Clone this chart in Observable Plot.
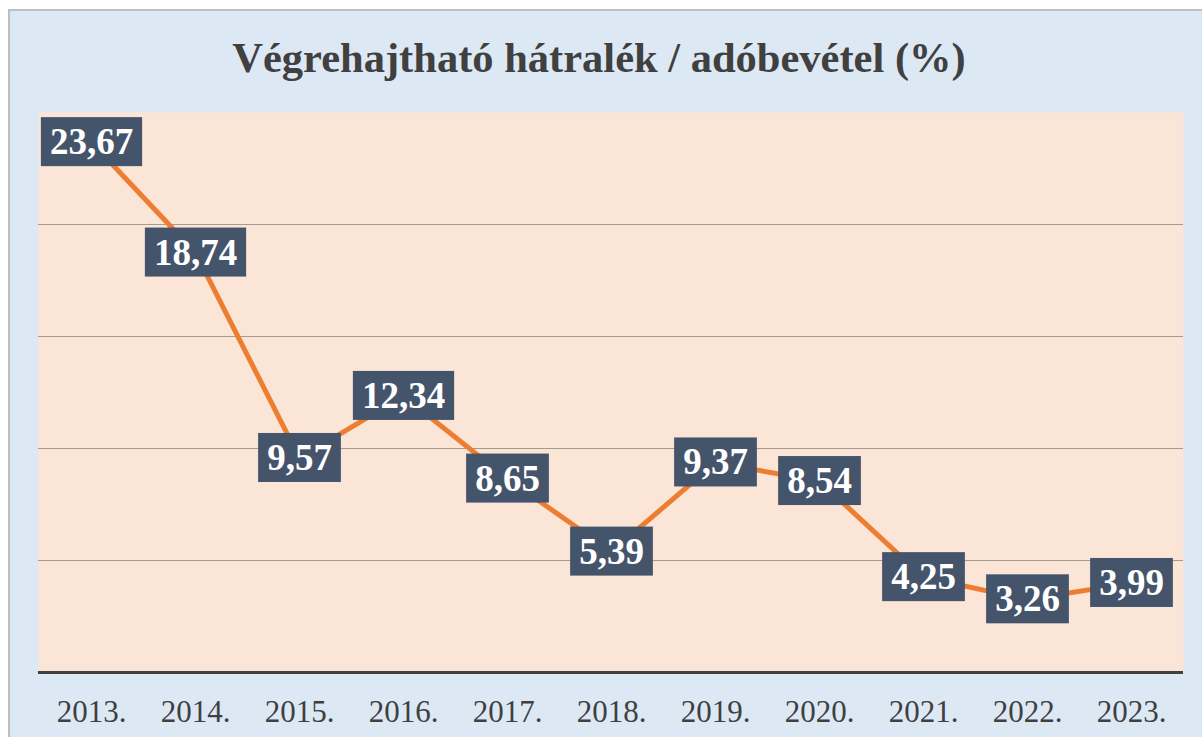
<!DOCTYPE html>
<html>
<head>
<meta charset="utf-8">
<script src="https://cdn.jsdelivr.net/npm/d3@7"></script>
<script src="https://cdn.jsdelivr.net/npm/@observablehq/plot@0.6"></script>
<style>
  html, body { margin: 0; padding: 0; background: #ffffff; width: 1202px; height: 737px; overflow: hidden; }
  #frame { position: absolute; left: 8px; top: 9px; width: 1202px; height: 740px; background: #dde8f5; border: 2px solid #bfbfbf; box-sizing: border-box; }
  #title { position: absolute; left: 0; top: 37px; width: 1198px; text-align: center; font-family: "Liberation Serif", "Times New Roman", serif; font-weight: bold; font-size: 42.5px; color: #404040; line-height: 1; }
  #chart { position: absolute; left: 10px; top: 100px; }
</style>
</head>
<body>
<div id="frame"></div>
<div id="title">Végrehajtható hátralék / adóbevétel (%)</div>
<div id="chart"></div>
<script>
const years = ["2013.", "2014.", "2015.", "2016.", "2017.", "2018.", "2019.", "2020.", "2021.", "2022.", "2023."];
const values = [23.67, 18.74, 9.57, 12.34, 8.65, 5.39, 9.37, 8.54, 4.25, 3.26, 3.99];
const gridTicks = [5, 10, 15, 20];

const data = years.map((y, i) => ({year: y, value: values[i], label: values[i].toFixed(2).replace(".", ",")}));

const plot = Plot.plot({
  width: 1192,
  height: 637,
  marginLeft: 28,
  marginRight: 19,
  marginTop: 12,
  marginBottom: 65,
  style: {background: "transparent", fontFamily: "'Liberation Serif', 'Times New Roman', serif", overflow: "visible"},
  x: {type: "point", domain: years, padding: 0.5, label: null, axis: null},
  y: {domain: [0, 25], label: null, axis: null},
  marks: [
    Plot.frame({fill: "#fbe5d6", stroke: null}),
    Plot.ruleY(gridTicks, {stroke: "#a39a92", strokeWidth: 1}),
    Plot.ruleY([0], {stroke: "#404040", strokeWidth: 3}),
    Plot.axisX({tickSize: 0, tickPadding: 27, fontSize: 31, fill: "#404040", label: null}),
    Plot.line(data, {x: "year", y: "value", stroke: "#ed7d31", strokeWidth: 5, strokeLinejoin: "round"}),
    Plot.text(data, {x: "year", y: "value", text: "label", fill: "#ffffff", fontSize: 37, fontWeight: "bold", fontFamily: "'Liberation Serif', 'Times New Roman', serif", className: "vlabel"})
  ]
});
document.getElementById("chart").appendChild(plot);

// add dark background boxes behind value labels
const padX = 9, padY = 4;
plot.querySelectorAll("g.vlabel text").forEach(t => {
  const b = t.getBBox();
  const r = document.createElementNS("http://www.w3.org/2000/svg", "rect");
  r.setAttribute("x", b.x - padX);
  r.setAttribute("y", b.y - padY);
  r.setAttribute("width", b.width + 2 * padX);
  r.setAttribute("height", b.height + 2 * padY);
  r.setAttribute("fill", "#44546a");
  if (t.getAttribute("transform")) r.setAttribute("transform", t.getAttribute("transform"));
  t.parentNode.insertBefore(r, t);
});
</script>
</body>
</html>
